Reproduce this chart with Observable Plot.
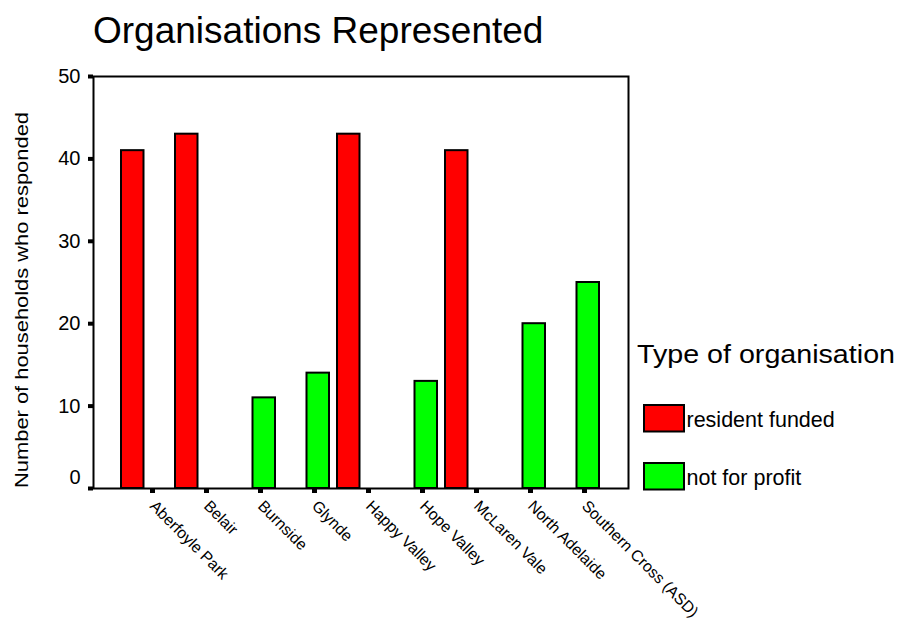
<!DOCTYPE html>
<html><head><meta charset="utf-8">
<script src="https://cdn.jsdelivr.net/npm/d3@7"></script>
<script src="https://cdn.jsdelivr.net/npm/@observablehq/plot@0.6"></script>
<style>
body{margin:0;background:#fff;font-family:Arial,"Liberation Sans",sans-serif;}
#chart{position:relative;width:898px;height:621px;}
</style></head><body><div id="chart"></div>
<script>
const categories = ["Aberfoyle Park","Belair","Burnside","Glynde","Happy Valley","Hope Valley","McLaren Vale","North Adelaide","Southern Cross (ASD)"];
const residentFunded = [41,43,0,0,43,0,41,0,0];
const notForProfit = [0,0,11,14,0,13,0,20,25];
const seriesNames = ["resident funded","not for profit"];
const seriesColors = ["#ff0000","#00ff00"];
const yTicks = [0,10,20,30,40,50];
const title = "Organisations Represented";
const yLabel = "Number of households who responded";
const legendTitle = "Type of organisation";

const rows = [];
categories.forEach((c,i)=>{
  rows.push({category:c,type:seriesNames[0],value:residentFunded[i]});
  rows.push({category:c,type:seriesNames[1],value:notForProfit[i]});
});

const W=898,H=621,mL=93,mR=270,mT=76,mB=133;
const half=23.5;
const font="Arial, 'Liberation Sans', sans-serif";
const plot = Plot.plot({
  width:W,height:H,marginLeft:mL,marginRight:mR,marginTop:mT,marginBottom:mB,
  style:{fontFamily:font,background:"white",color:"black",overflow:"visible"},
  x:{type:"band",domain:categories,paddingInner:0.1396,paddingOuter:0.467,axis:null},
  y:{domain:[0,50],axis:null},
  color:{domain:seriesNames,range:seriesColors},
  marks:[
    Plot.barY(rows.filter(d=>d.type===seriesNames[0]),{x:"category",y:"value",fill:"type",stroke:"black",strokeWidth:2,insetRight:half}),
    Plot.barY(rows.filter(d=>d.type===seriesNames[1]),{x:"category",y:"value",fill:"type",stroke:"black",strokeWidth:2,insetLeft:half}),
    Plot.frame({stroke:"black",strokeWidth:2}),
    Plot.axisY({ticks:yTicks,tickSize:5,strokeWidth:4,tickPadding:8,fontSize:20,label:null,tickFormat:d=>d===0?"":d}),
    Plot.axisY({ticks:[0],tickSize:0,tickPadding:13,fontSize:20,label:null,dy:-11}),
    Plot.axisX({tickSize:5,strokeWidth:5,tickRotate:45,tickPadding:10,dx:8,fontSize:15.8,textAnchor:"start",label:null})
  ]
});
document.getElementById("chart").appendChild(plot);
const svg = d3.select(plot);
svg.append("text").text(title).attr("x",93).attr("y",43.3).attr("text-anchor","start")
  .attr("font-size",37).attr("font-family",font).attr("fill","black");
svg.append("text").text(yLabel).attr("transform","translate(28.3,300) rotate(-90)")
  .attr("text-anchor","middle").attr("font-size",18.5).attr("font-family",font)
  .attr("textLength",376).attr("lengthAdjust","spacingAndGlyphs").attr("fill","black");
const lg = svg.append("g").attr("font-family",font).attr("text-anchor","start");
lg.append("text").text(legendTitle).attr("x",637).attr("y",362.7).attr("font-size",26)
  .attr("textLength",258).attr("lengthAdjust","spacingAndGlyphs").attr("fill","black");
seriesNames.forEach((n,i)=>{
  lg.append("rect").attr("x",644).attr("y",405+i*58).attr("width",40).attr("height",26.5)
    .attr("fill",seriesColors[i]).attr("stroke","black").attr("stroke-width",2);
  lg.append("text").text(n).attr("x",686.5).attr("y",427.3+i*57.7).attr("font-size",21.5).attr("fill","black");
});
</script></body></html>
